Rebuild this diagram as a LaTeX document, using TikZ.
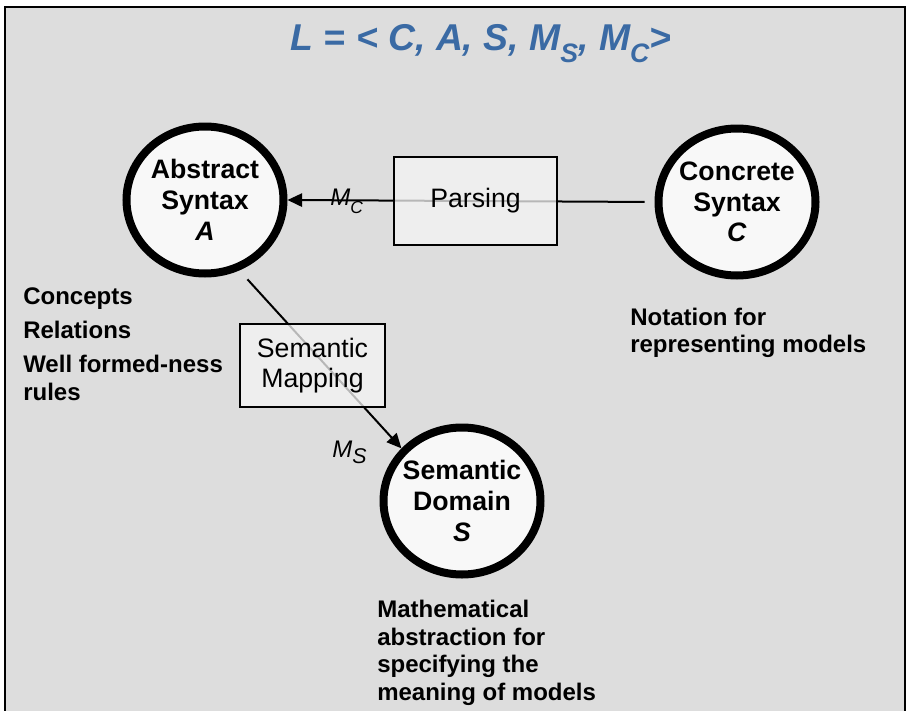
\documentclass[tikz,border=0pt]{standalone}
\usepackage{fontspec}
\setmainfont{Liberation Sans}
\usetikzlibrary{shapes.geometric,arrows.meta}
\definecolor{panelgray}{RGB}{221,221,221}
\definecolor{titleblue}{RGB}{58,106,164}
\definecolor{ringfill}{RGB}{248,248,248}
\definecolor{boxfill}{RGB}{245,245,245}
% lowered subscript: drop, size, text
\newcommand{\lowsub}[3]{\raisebox{-#1}{\fontsize{#2}{#2}\selectfont #3}}

\begin{document}
\begin{tikzpicture}[x=0.75pt,y=-0.75pt,
    ring/.style={ellipse, draw, line width=6pt, fill=ringfill,
        minimum width=117.75pt, minimum height=110.25pt, inner sep=0pt},
    ringtext/.style={align=center, inner sep=0pt,
        font=\bfseries\fontsize{20}{23}\selectfont},
    mapbox/.style={draw, line width=1.5pt, fill=boxfill, fill opacity=0.75,
        draw opacity=1, text opacity=1, align=center, inner sep=0pt,
        font=\fontsize{20}{22.5}\selectfont},
    notetext/.style={anchor=north west, align=left, inner sep=0pt},
    arr/.style={line width=1.5pt, -{Triangle[length=11pt,width=10pt]}}]
    \useasboundingbox (0,0) rectangle (908,711);

    % Panel
    \fill[white] (0,0) rectangle (908,711);
    \fill[panelgray] (5,7) rectangle (905,711);
    \draw[line width=1.5pt] (5,711) -- (5,7) -- (905,7) -- (905,711);

    % Title
    \node[anchor=base, inner sep=0pt, text=titleblue,
        font=\bfseries\itshape\fontsize{28}{28}\selectfont] (title) at (481,50)
        {L = < C, A, S, M\lowsub{9pt}{20}{S}, M\lowsub{9pt}{20}{C}>};

    % The three parts of the language
    \node[ring] (abstract) at (205,200) {};
    \node[ringtext] (abstract-text) at (abstract) {Abstract\\Syntax\\\textit{A}};
    \node[ring] (concrete) at (737,202) {};
    \node[ringtext] (concrete-text) at (concrete) {Concrete\\Syntax\\\textit{C}};
    \node[ring] (semantic) at (462,501) {};
    \node[ringtext] (semantic-text) at (semantic) {Semantic\\Domain\\\textit{S}};

    % Mappings
    \draw[arr, shorten <=7.5pt] (concrete.west) -- (abstract.east);
    \draw[arr, shorten <=9pt] (abstract.-64) -- (semantic.139);
    \node[mapbox, minimum width=122.25pt, minimum height=66pt] (parsing)
        at (475.5,201) {Parsing};
    \node[mapbox, minimum width=108.75pt, minimum height=62.25pt] (mapping)
        at (312.5,365.5) {Semantic\\Mapping};
    \node[anchor=base west, inner sep=0pt, font=\itshape\fontsize{18}{18}\selectfont]
        (mc) at (330,205) {M\lowsub{6pt}{13}{C}};
    \node[anchor=base west, inner sep=0pt, font=\itshape\fontsize{18}{18}\selectfont]
        (ms) at (332,457) {M\lowsub{5pt}{16}{S}};

    % Descriptions
    \node[notetext, font=\bfseries\fontsize{18}{21}\selectfont] (concepts) at (23,287)
        {Concepts\\[4.5pt]Relations\\[4.5pt]Well formed-ness\\rules};
    \node[notetext, font=\bfseries\fontsize{18}{20}\selectfont] (notation) at (630,308)
        {Notation for\\representing models};
    \node[notetext, font=\bfseries\fontsize{18}{20.75}\selectfont] (maths) at (377,600)
        {Mathematical\\abstraction for\\specifying the\\meaning of models};
\end{tikzpicture}
\end{document}
